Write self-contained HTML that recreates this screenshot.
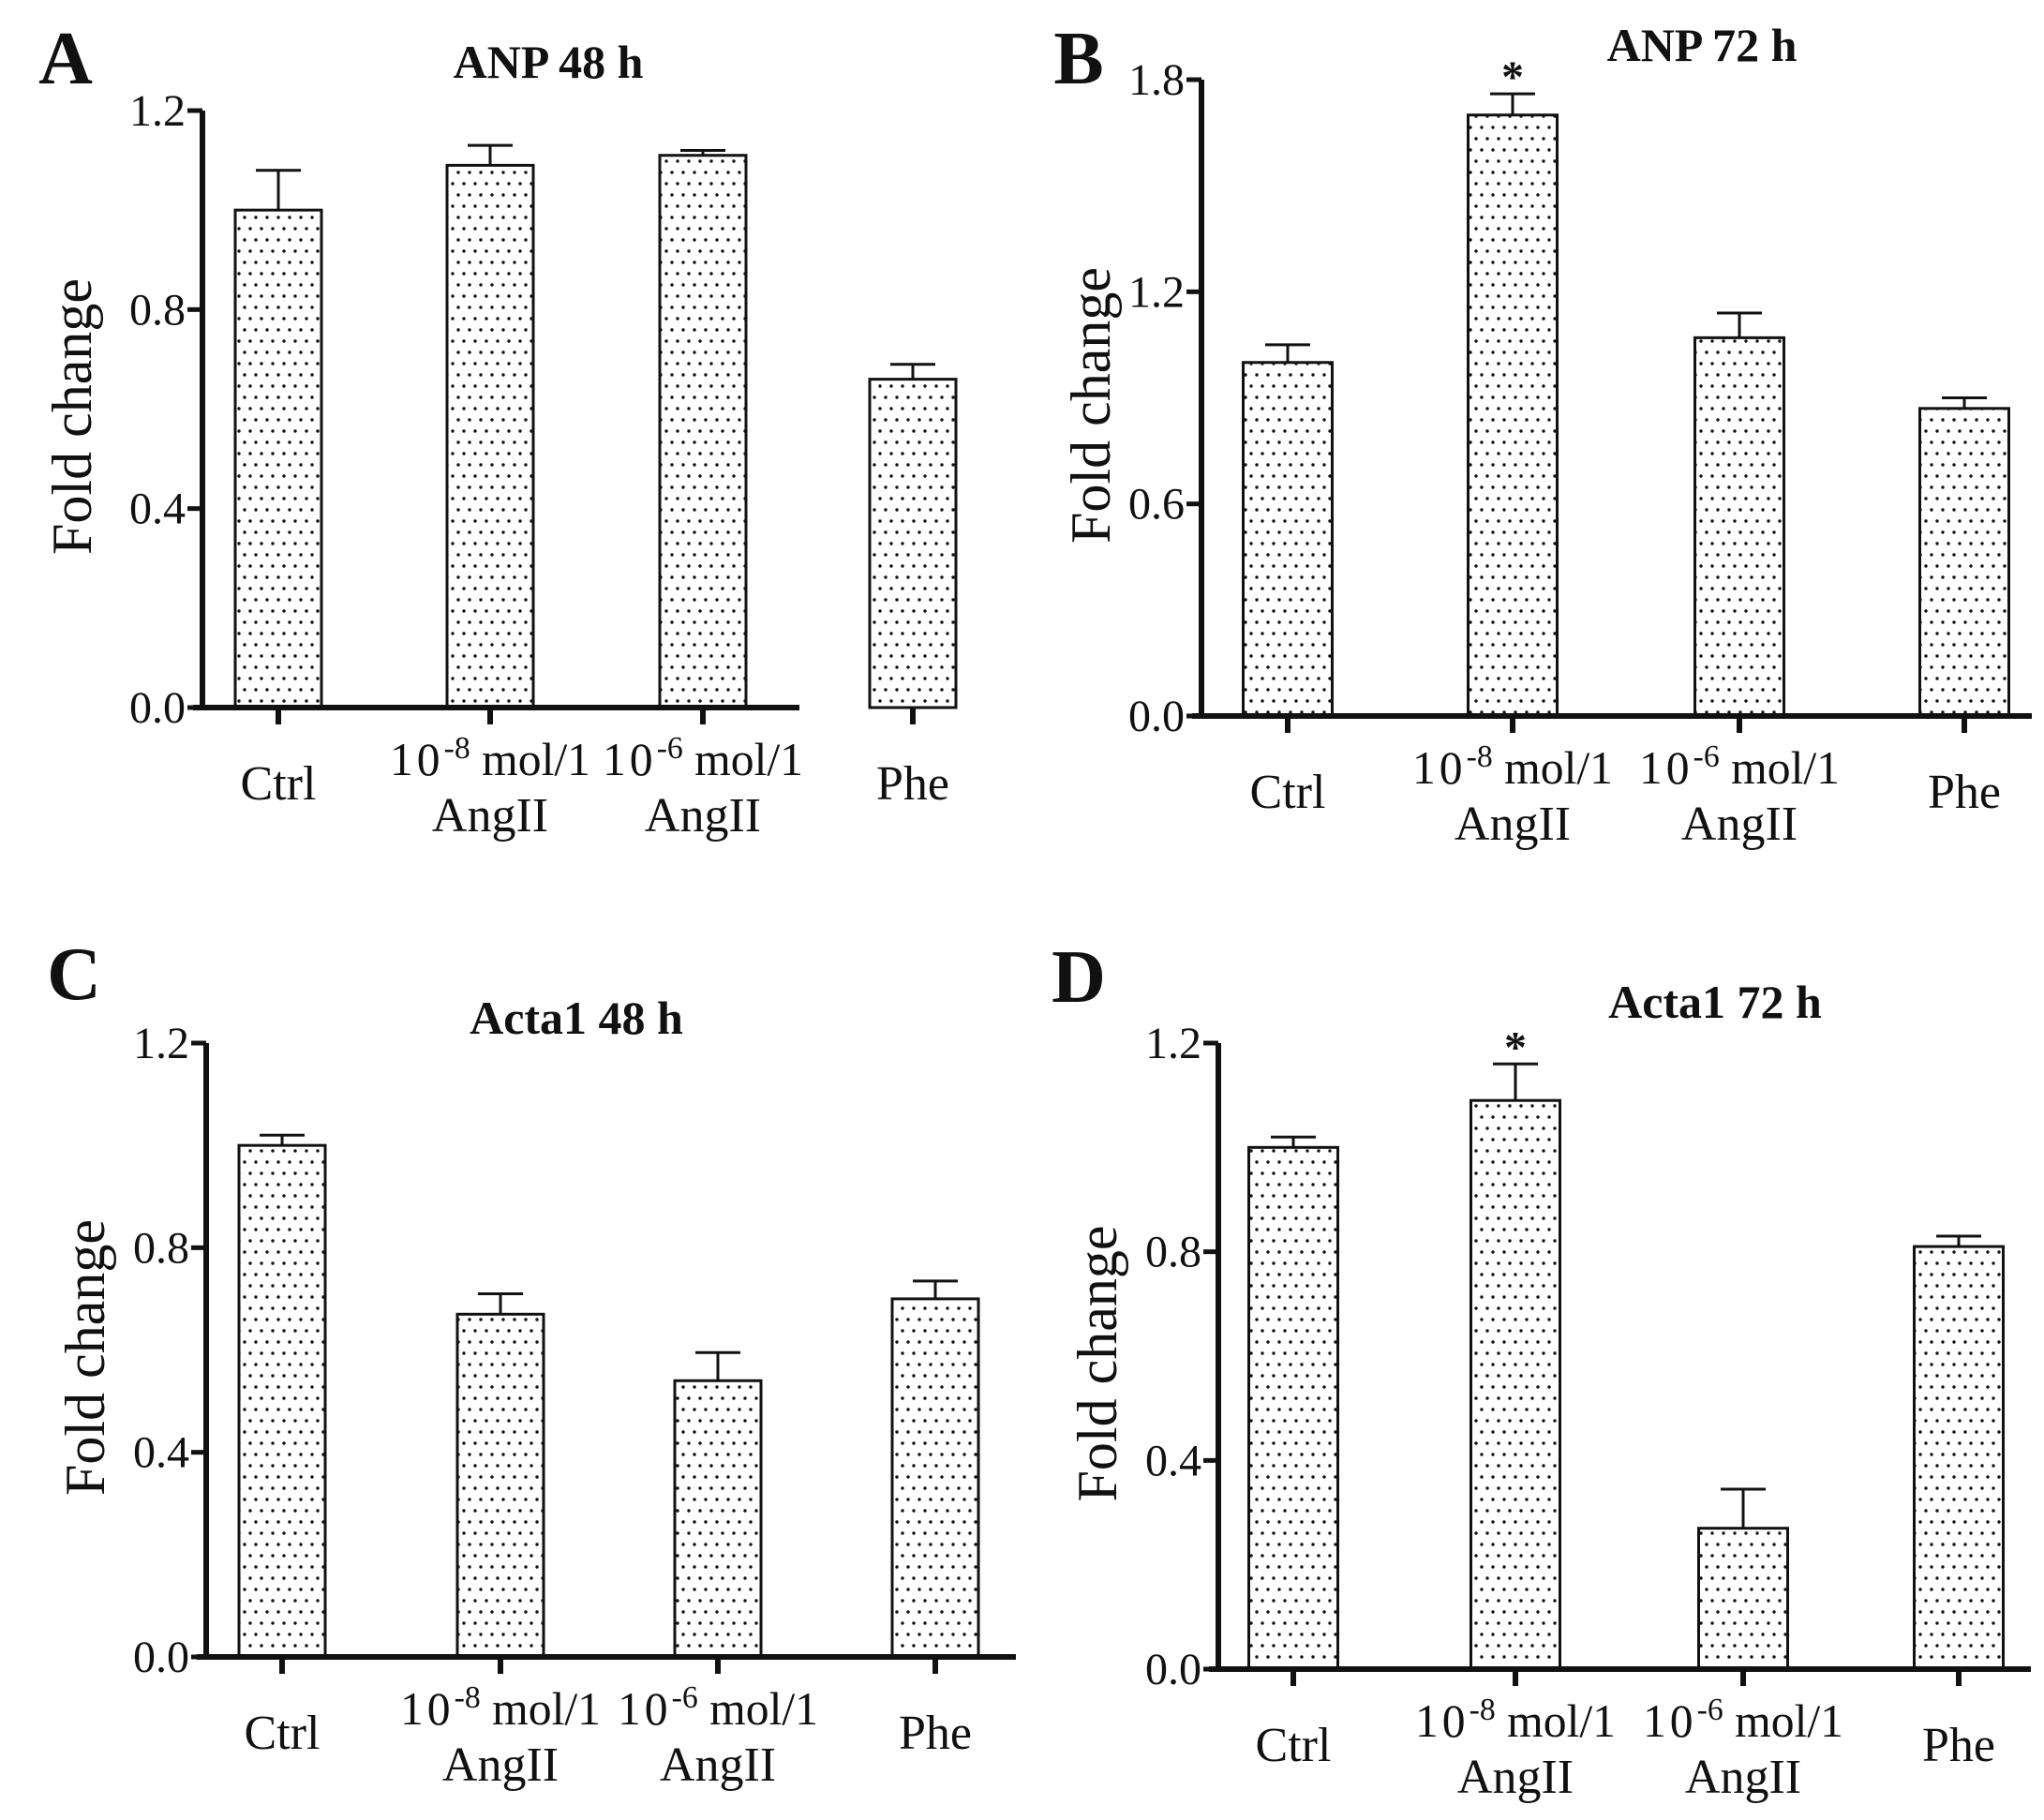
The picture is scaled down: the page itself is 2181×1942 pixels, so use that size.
<!DOCTYPE html>
<html><head><meta charset="utf-8"><style>
html,body{margin:0;padding:0;background:#fff}
svg{display:block}
text{font-family:"Liberation Serif",serif;fill:#111}
</style></head><body>
<svg id="fig" width="2181" height="1942" viewBox="0 0 2181 1942" xmlns="http://www.w3.org/2000/svg">
<defs>
<pattern id="dots" width="12" height="24" patternUnits="userSpaceOnUse">
<circle cx="3" cy="4" r="1.7" fill="#111"/>
<circle cx="9" cy="16" r="1.7" fill="#111"/>
</pattern>
</defs>
<rect width="2181" height="1942" fill="#fff"/>
</svg>
<script>
const categories = ["Ctrl","10-8","10-6","Phe"];
const valsA = [1.0, 1.09, 1.11, 0.66];
const errA = [0.08, 0.04, 0.01, 0.03];
const valsB = [1.0, 1.7, 1.07, 0.87];
const errB = [0.05, 0.06, 0.07, 0.03];
const valsC = [1.0, 0.67, 0.54, 0.70];
const errC = [0.02, 0.04, 0.055, 0.035];
const valsD = [1.0, 1.09, 0.27, 0.81];
const errD = [0.02, 0.07, 0.075, 0.02];
const ticksA = [0, 0.4, 0.8, 1.2];
const ticksB = [0, 0.6, 1.2, 1.8];
const ticksC = [0, 0.4, 0.8, 1.2];
const ticksD = [0, 0.4, 0.8, 1.2];
const stars = [[],[1],[],[1]];

const svg = document.getElementById('fig');
const NS = 'http://www.w3.org/2000/svg';
function mk(tag, attrs, parent){
  const e = document.createElementNS(NS, tag);
  for (const k in attrs) e.setAttribute(k, attrs[k]);
  (parent||svg).appendChild(e);
  return e;
}
const panels = [
 {id:'a', letter:'A', lx:70, ly:63, title:'ANP 48 h', tx:585, ty:67, ax:216, y0:755, ymax:1.2, ytop:118, xend:853, cx:[297,523,750,974], bw:92, ylx:77, vals:valsA, err:errA, ticks:ticksA},
 {id:'b', letter:'B', lx:1151, ly:63, title:'ANP 72 h', tx:1816, ty:49, ax:1282, y0:764, ymax:1.8, ytop:85, xend:2168, cx:[1374,1614,1856,2096], bw:95, ylx:1164, vals:valsB, err:errB, ticks:ticksB},
 {id:'c', letter:'C', lx:79, ly:1040, title:'Acta1 48 h', tx:615, ty:1087, ax:220, y0:1768, ymax:1.2, ytop:1113, xend:1084, cx:[301,534,766,998], bw:92, ylx:91, vals:valsC, err:errC, ticks:ticksC},
 {id:'d', letter:'D', lx:1151, ly:1043, title:'Acta1 72 h', tx:1830, ty:1070, ax:1300, y0:1781, ymax:1.2, ytop:1113, xend:2167, cx:[1380,1617,1860,2090], bw:95, ylx:1171, vals:valsD, err:errD, ticks:ticksD}
];
panels.forEach((p, pi) => {
  const g = mk('g', {});
  
  
  const y = v => p.y0 - (v / p.ymax) * (p.y0 - p.ytop);
  const L = mk('text', {x:p.lx, y:p.ly+26, 'font-size':80, 'font-weight':'bold', 'text-anchor':'middle'}, g);
  L.textContent = p.letter;
  
  
  const T = mk('text', {x:p.tx, y:p.ty+16, 'font-size':50, 'font-weight':'bold', 'text-anchor':'middle'}, g);
  T.textContent = p.title;
  
  
  const Y = mk('text', {x:0, y:0, 'font-size':60, 'text-anchor':'middle', transform:`translate(${p.ylx+20},${(p.y0+p.ytop)/2+8}) rotate(-90)`}, g);
  Y.textContent = 'Fold change';
  
  
  p.vals.forEach((v, i) => {
    const x = p.cx[i] - p.bw/2;
    const r = mk('rect', {x:x, y:y(v), width:p.bw, height:p.y0 - y(v), fill:'url(#dots)', stroke:'#111', 'stroke-width':3}, g);
    
    
    const e = mk('path', {d:`M${p.cx[i]} ${y(v)} V${y(v+p.err[i])} M${p.cx[i]-24} ${y(v+p.err[i])} H${p.cx[i]+24}`, stroke:'#111', 'stroke-width':3, fill:'none'}, g);
    
    
    if (stars[pi].includes(i)) {
      const s = mk('text', {x:p.cx[i], y:y(v+p.err[i])-2, 'font-size':48, 'font-weight':'bold', 'text-anchor':'middle'}, g);
      s.textContent = '*';
      
      
    }
    mk('line', {x1:p.cx[i], x2:p.cx[i], y1:p.y0, y2:p.y0+18, stroke:'#111', 'stroke-width':6}, g);
    const c = categories[i];
    if (c === 'Ctrl' || c === 'Phe') {
      const t = mk('text', {x:p.cx[i], y:p.y0+98, 'font-size':52, 'text-anchor':'middle'}, g);
      t.textContent = c;
      
      
    } else {
      const t = mk('text', {x:p.cx[i], y:p.y0+72, 'font-size':50, 'text-anchor':'middle', textLength:214, lengthAdjust:'spacingAndGlyphs'}, g);
      t.innerHTML = '<tspan letter-spacing="4">10</tspan><tspan dy="-18" font-size="34">' + c.slice(2) + '</tspan><tspan dy="18"> mol/1</tspan>';
      
      
      const t2 = mk('text', {x:p.cx[i], y:p.y0+132, 'font-size':52, 'text-anchor':'middle'}, g);
      t2.textContent = 'AngII';
      
      
    }
  });
  const ax = mk('path', {d:`M${p.ax} ${p.ytop} V${p.y0} M${p.ax-10} ${p.y0} H${p.xend}`, stroke:'#111', 'stroke-width':6, fill:'none'}, g);
  
  
  p.ticks.forEach(t => {
    mk('line', {x1:p.ax-16, x2:p.ax, y1:y(t), y2:y(t), stroke:'#111', 'stroke-width':5}, g);
    const tl = mk('text', {x:p.ax-18, y:y(t)+16, 'font-size':48, 'text-anchor':'end'}, g);
    tl.textContent = t.toFixed(1);
    
    
  });
});
</script>
</body></html>
